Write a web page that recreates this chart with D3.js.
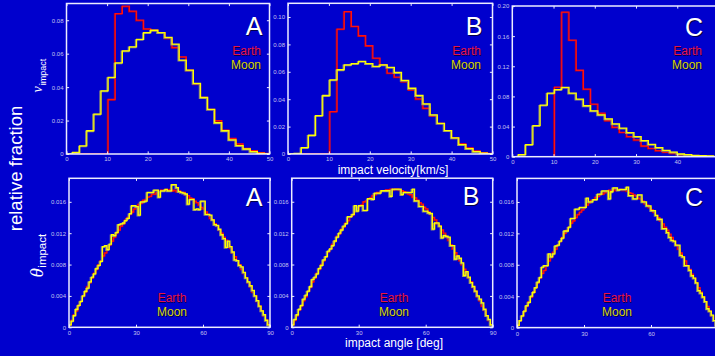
<!DOCTYPE html>
<html><head><meta charset="utf-8">
<script src="https://cdn.jsdelivr.net/npm/d3@7"></script>
<style>html,body{margin:0;padding:0;background:#0000cd;} svg{display:block}</style>
</head><body>
<svg id="c" width="715" height="356"></svg>
<script>
// ---------------- DATA ----------------
// impact velocity histogram bin edges [km/s]
const velEdges = [1.5,3.25,5,6.75,8.5,10.25,12,13.75,15.5,17.25,19,20.75,22.5,24.25,26,27.75,29.5,31.25,33,34.75,36.5,38.25,40,41.75,43.5,45.25,47,48.75,50.5];
const earthVelA = [0,0,0,0,0,0.0326,0.0840,0.0884,0.0854,0.0800,0.0748,0.0740,0.0726,0.0692,0.0637,0.0581,0.0501,0.0418,0.0338,0.0267,0.0199,0.0143,0.0094,0.0060,0.0034,0.0020,0.0008,0.0004];
const moonVelA  = [0.0010,0.0048,0.0139,0.0239,0.0378,0.0458,0.0545,0.0617,0.0641,0.0685,0.0726,0.0740,0.0726,0.0697,0.0657,0.0561,0.0501,0.0422,0.0338,0.0267,0.0187,0.0139,0.0084,0.0050,0.0030,0.0014,0.0004,0.0002];
const earthVelB = [0,0,0,0,0,0.0310,0.0912,0.1039,0.0932,0.0863,0.0790,0.0700,0.0651,0.0590,0.0561,0.0529,0.0468,0.0402,0.0334,0.0278,0.0224,0.0171,0.0117,0.0073,0.0044,0.0022,0.0010,0.0005];
const moonVelB  = [0.0005,0.0046,0.0137,0.0280,0.0427,0.0541,0.0615,0.0651,0.0659,0.0676,0.0659,0.0639,0.0651,0.0632,0.0595,0.0537,0.0480,0.0427,0.0366,0.0285,0.0224,0.0171,0.0117,0.0068,0.0039,0.0017,0.0007,0.0002];
const earthVelC = [0,0,0,0,0,0.0924,0.1920,0.1547,0.1147,0.0898,0.0698,0.0578,0.0480,0.0391,0.0324,0.0267,0.0222,0.0142,0.0111,0.0080,0.0062,0.0044,0.0027,0.0018,0.0009,0.0005,0.0003,0.0001];
const moonVelC  = [0.0027,0.0160,0.0413,0.0684,0.0844,0.0889,0.0920,0.0844,0.0764,0.0676,0.0609,0.0556,0.0502,0.0436,0.0378,0.0320,0.0267,0.0213,0.0164,0.0120,0.0084,0.0062,0.0036,0.0027,0.0018,0.0013,0.0009,0.0005];

// impact angle histograms, 1-degree bins from 0 to 90 deg
const earthAngA = [0.0003,0.0009,0.0016,0.0021,0.0028,0.0033,0.0040,0.0045,0.0052,0.0057,
0.0063,0.0069,0.0074,0.0080,0.0085,0.0091,0.0095,0.0101,0.0105,0.0110,
0.0115,0.0120,0.0124,0.0129,0.0132,0.0137,0.0140,0.0144,0.0147,0.0151,
0.0153,0.0157,0.0158,0.0162,0.0163,0.0166,0.0167,0.0170,0.0170,0.0172,
0.0173,0.0175,0.0174,0.0176,0.0175,0.0176,0.0174,0.0175,0.0173,0.0174,
0.0172,0.0172,0.0169,0.0168,0.0165,0.0164,0.0161,0.0159,0.0156,0.0153,
0.0151,0.0147,0.0144,0.0139,0.0137,0.0132,0.0129,0.0124,0.0120,0.0115,
0.0111,0.0105,0.0101,0.0095,0.0090,0.0085,0.0080,0.0074,0.0069,0.0063,
0.0057,0.0052,0.0045,0.0040,0.0033,0.0027,0.0021,0.0015,0.0009,0.0003];
const moonAngA = [0.0003,0.0008,0.0015,0.0023,0.0028,0.0033,0.0040,0.0046,0.0050,0.0058,
0.0064,0.0068,0.0075,0.0079,0.0084,0.0103,0.0104,0.0099,0.0106,0.0118,
0.0117,0.0121,0.0131,0.0132,0.0133,0.0136,0.0139,0.0145,0.0155,0.0155,
0.0154,0.0143,0.0160,0.0160,0.0161,0.0172,0.0172,0.0172,0.0175,0.0175,
0.0166,0.0174,0.0174,0.0176,0.0174,0.0174,0.0182,0.0182,0.0178,0.0173,
0.0172,0.0171,0.0170,0.0157,0.0163,0.0163,0.0150,0.0151,0.0150,0.0161,
0.0161,0.0144,0.0144,0.0143,0.0137,0.0131,0.0130,0.0125,0.0118,0.0113,
0.0102,0.0110,0.0103,0.0096,0.0086,0.0085,0.0079,0.0077,0.0070,0.0063,
0.0058,0.0053,0.0047,0.0040,0.0034,0.0027,0.0021,0.0016,0.0009,0.0003];
const earthAngB = [0.0003,0.0009,0.0015,0.0022,0.0027,0.0034,0.0039,0.0046,0.0051,0.0058,
0.0063,0.0069,0.0074,0.0080,0.0085,0.0090,0.0096,0.0100,0.0106,0.0110,
0.0116,0.0119,0.0125,0.0128,0.0133,0.0136,0.0141,0.0143,0.0148,0.0150,
0.0154,0.0156,0.0160,0.0161,0.0164,0.0165,0.0168,0.0169,0.0172,0.0172,
0.0174,0.0174,0.0175,0.0175,0.0176,0.0175,0.0176,0.0176,0.0175,0.0174,
0.0173,0.0172,0.0170,0.0169,0.0166,0.0165,0.0162,0.0159,0.0157,0.0153,
0.0151,0.0147,0.0144,0.0140,0.0137,0.0132,0.0129,0.0124,0.0120,0.0115,
0.0111,0.0105,0.0100,0.0095,0.0091,0.0085,0.0080,0.0074,0.0069,0.0063,
0.0058,0.0051,0.0046,0.0039,0.0034,0.0027,0.0022,0.0015,0.0009,0.0003];
const moonAngB = [0.0003,0.0010,0.0016,0.0023,0.0028,0.0036,0.0041,0.0046,0.0052,0.0061,
0.0064,0.0068,0.0075,0.0079,0.0086,0.0090,0.0097,0.0100,0.0104,0.0110,
0.0115,0.0120,0.0124,0.0129,0.0132,0.0141,0.0141,0.0144,0.0155,0.0148,
0.0155,0.0155,0.0149,0.0149,0.0164,0.0164,0.0163,0.0171,0.0171,0.0171,
0.0174,0.0174,0.0174,0.0174,0.0167,0.0176,0.0176,0.0176,0.0176,0.0169,
0.0172,0.0172,0.0172,0.0172,0.0176,0.0161,0.0161,0.0154,0.0154,0.0148,
0.0148,0.0146,0.0145,0.0125,0.0133,0.0133,0.0129,0.0114,0.0117,0.0116,
0.0115,0.0104,0.0104,0.0087,0.0091,0.0088,0.0082,0.0066,0.0071,0.0064,
0.0057,0.0052,0.0046,0.0040,0.0036,0.0031,0.0023,0.0015,0.0010,0.0003];
const earthAngC = [0.0003,0.0009,0.0015,0.0021,0.0027,0.0033,0.0039,0.0045,0.0051,0.0057,
0.0063,0.0069,0.0073,0.0079,0.0085,0.0090,0.0096,0.0100,0.0105,0.0110,
0.0115,0.0120,0.0124,0.0128,0.0133,0.0136,0.0140,0.0144,0.0147,0.0150,
0.0153,0.0156,0.0159,0.0162,0.0163,0.0166,0.0167,0.0170,0.0170,0.0172,
0.0173,0.0175,0.0174,0.0176,0.0175,0.0176,0.0176,0.0175,0.0175,0.0174,
0.0172,0.0171,0.0169,0.0168,0.0165,0.0164,0.0161,0.0158,0.0156,0.0153,
0.0150,0.0147,0.0143,0.0140,0.0136,0.0132,0.0128,0.0124,0.0119,0.0115,
0.0110,0.0105,0.0100,0.0095,0.0090,0.0085,0.0079,0.0074,0.0068,0.0063,
0.0057,0.0051,0.0045,0.0039,0.0033,0.0027,0.0021,0.0015,0.0009,0.0003];
const moonAngC = [0.0003,0.0009,0.0015,0.0021,0.0028,0.0032,0.0040,0.0045,0.0051,0.0058,
0.0064,0.0077,0.0079,0.0079,0.0094,0.0090,0.0094,0.0104,0.0105,0.0110,
0.0114,0.0123,0.0123,0.0128,0.0139,0.0139,0.0151,0.0151,0.0153,0.0153,
0.0153,0.0165,0.0160,0.0160,0.0163,0.0163,0.0170,0.0170,0.0174,0.0174,
0.0174,0.0164,0.0173,0.0178,0.0178,0.0175,0.0176,0.0176,0.0176,0.0179,
0.0168,0.0168,0.0164,0.0164,0.0169,0.0169,0.0160,0.0160,0.0155,0.0155,
0.0149,0.0149,0.0143,0.0138,0.0138,0.0126,0.0126,0.0121,0.0115,0.0111,
0.0110,0.0105,0.0105,0.0092,0.0090,0.0079,0.0079,0.0073,0.0066,0.0063,
0.0057,0.0047,0.0044,0.0039,0.0033,0.0024,0.0021,0.0016,0.0009,0.0003];

// tick values / labels
const velXTicks = [0,10,20,30,40,50];
const velYTicksA = [0,0.02,0.04,0.06,0.08];
const velYTicksB = [0,0.02,0.04,0.06,0.08,0.10];
const velYTicksC = [0,0.04,0.08,0.12,0.16,0.20];
const angXTicks = [0,30,60,90];
const angYTicks = [0,0.004,0.008,0.012,0.016];
const panelLetters = ["A","B","C"];
const seriesNames = ["Earth","Moon"];

// ---------------- DRAWING ----------------
const svg = d3.select('#c');
const FONT = "'Liberation Sans', Arial, Helvetica, sans-serif";
const frameColor = "#ececff";
const tickTextColor = "#c4c4ee";
const earthColor = "#ff1010", moonColor = "#ffff00";
const earthText = "#e8124c", moonText = "#d6d600";

function shadowText(g, x, y, str, fill, size, anchor) {
  g.append('text').attr('x', x + 1.2).attr('y', y + 1.2).attr('text-anchor', anchor)
    .attr('font-family', FONT).attr('font-size', size).attr('fill', 'rgba(0,0,30,0.75)').text(str);
  g.append('text').attr('x', x).attr('y', y).attr('text-anchor', anchor)
    .attr('font-family', FONT).attr('font-size', size).attr('fill', fill).text(str);
}

let clipId = 0;
function drawPanel(p) {
  const [x0, y0, x1, y1] = p.box;
  const x = d3.scaleLinear().domain(p.xDomain).range([x0, x1]);
  const y = d3.scaleLinear().domain([0, p.ymax]).range([y1, y0]);
  const g = svg.append('g');
  const cid = 'clip' + (clipId++);
  g.append('clipPath').attr('id', cid).append('rect')
    .attr('x', x0).attr('y', y0 - 2).attr('width', x1 - x0).attr('height', y1 - y0 + 2);

  const line = d3.line().x(d => x(d[0])).y(d => y(d[1])).curve(d3.curveStepAfter);
  const lg = g.append('g').attr('clip-path', `url(#${cid})`);
  const series = [p.earth, p.moon];
  series.forEach((vals, si) => {
    const pts = p.toPoints(vals);
    if (si === 1) {
      lg.append('path').attr('d', line(pts)).attr('fill', 'none')
        .attr('stroke', '#8c8c78').attr('stroke-width', 1.6)
        .attr('transform', 'translate(-0.9,0.6)');
    } else {
      lg.append('path').attr('d', line(pts)).attr('fill', 'none')
        .attr('stroke', '#a00030').attr('stroke-width', 1.4)
        .attr('transform', 'translate(-0.7,0.5)');
    }
    lg.append('path').attr('d', line(pts)).attr('fill', 'none')
      .attr('stroke', si === 0 ? earthColor : moonColor).attr('stroke-width', 1.3);
  });

  // axes (ticks inward on all four sides)
  const tl = 2.6;
  const xLab = d => (x(d) > 711 ? '' : d3.format('d')(d));
  const ax = g.append('g').attr('transform', `translate(0,${y1})`)
    .call(d3.axisBottom(x).tickValues(p.xTicks).tickSizeInner(-tl).tickSizeOuter(0).tickPadding(p.xPad).tickFormat(xLab));
  const ay = g.append('g').attr('transform', `translate(${x0},0)`)
    .call(d3.axisLeft(y).tickValues(p.yTicks).tickSizeInner(-tl).tickSizeOuter(0).tickPadding(3).tickFormat(p.yFmt));
  const at = g.append('g').attr('transform', `translate(0,${y0})`)
    .call(d3.axisTop(x).tickValues(p.xTicks).tickSizeInner(-tl).tickSizeOuter(0).tickFormat(''));
  const ar = g.append('g').attr('transform', `translate(${x1},0)`)
    .call(d3.axisRight(y).tickValues(p.yTicks).tickSizeInner(-tl).tickSizeOuter(0).tickFormat(''));
  [ax, ay, at, ar].forEach(a => {
    a.select('.domain').remove();
    a.selectAll('line').attr('stroke', frameColor).attr('stroke-width', 1);
    a.selectAll('text').attr('fill', tickTextColor).attr('font-family', FONT).attr('font-size', 6);
  });
  g.append('rect').attr('x', x0).attr('y', y0).attr('width', x1 - x0).attr('height', y1 - y0)
    .attr('fill', 'none').attr('stroke', frameColor).attr('stroke-width', 1.5);

  // letter and legend
  shadowText(g, p.letter[0], p.letter[1], p.name, '#ffffff', 25, 'middle');
  shadowText(g, p.legend[0], p.legend[1], seriesNames[0], earthText, 12, p.legend[2]);
  shadowText(g, p.legend[0], p.legend[1] + 13.8, seriesNames[1], moonText, 12, p.legend[2]);
}

const velPoints = vals => [[0, 0]].concat(vals.map((v, i) => [velEdges[i], v])).concat([[velEdges[velEdges.length - 1], 0]]);
const angPoints = vals => [[0, 0]].concat(vals.map((v, i) => [i, v])).concat([[vals.length, vals[vals.length - 1]], [vals.length, 0]]);
const velFmt = d => d === 0 ? '0' : d.toFixed(2);
const angFmt = d => d === 0 ? '0' : d.toFixed(3);

const velBoxes = [[66.5, 3.5, 269.5, 154], [288, 3.3, 492.5, 154], [512.3, 6, 718.5, 156.7]];
const velY = [velYTicksA, velYTicksB, velYTicksC];
const velMax = [0.09, 0.11, 0.20];
const velE = [earthVelA, earthVelB, earthVelC], velM = [moonVelA, moonVelB, moonVelC];
const velLetter = [[254, 35], [474, 35], [694, 36]];
const velLegend = [[261, 55, 'end'], [481, 55, 'end'], [702, 55, 'end']];
velBoxes.forEach((b, i) => drawPanel({
  box: b, xDomain: [0, 50], ymax: velMax[i], xTicks: velXTicks, yTicks: velY[i], yFmt: velFmt, xPad: 3,
  earth: velE[i], moon: velM[i], toPoints: velPoints, name: panelLetters[i],
  letter: velLetter[i], legend: velLegend[i]
}));

const angBoxes = [[69, 178.3, 270, 327.3], [291.7, 178.2, 492.7, 327.3], [517, 178.4, 718, 327.6]];
const angE = [earthAngA, earthAngB, earthAngC], angM = [moonAngA, moonAngB, moonAngC];
const angLetter = [[254, 205.7], [471, 205.2], [694, 205.7]];
const angLegend = [[172, 301.7, 'middle'], [394, 301.7, 'middle'], [617, 301.7, 'middle']];
angBoxes.forEach((b, i) => drawPanel({
  box: b, xDomain: [0, 90], ymax: 0.019, xTicks: angXTicks, yTicks: angYTicks, yFmt: angFmt, xPad: 3.8,
  earth: angE[i], moon: angM[i], toPoints: angPoints, name: panelLetters[i],
  letter: angLetter[i], legend: angLegend[i]
}));

// global labels
svg.append('text').attr('transform', 'translate(21.5,168.5) rotate(-90)').attr('text-anchor', 'middle')
  .attr('font-family', FONT).attr('font-size', 18.5).attr('fill', '#ffffff').text('relative fraction');

const vl = svg.append('text').attr('transform', 'translate(42,92.5) rotate(-90)').attr('fill', '#ffffff');
vl.append('tspan').attr('font-family', "'Liberation Serif', 'Times New Roman', serif").attr('font-style', 'italic').attr('font-size', 14).text('v');
vl.append('tspan').attr('font-family', FONT).attr('font-size', 9).attr('dy', 3.5).attr('dx', 1).text('impact');

const tl2 = svg.append('text').attr('transform', 'translate(42.5,277.5) rotate(-90)').attr('fill', '#ffffff');
tl2.append('tspan').attr('font-family', "'Liberation Serif', 'Times New Roman', serif").attr('font-style', 'italic').attr('font-size', 19).text('θ');
tl2.append('tspan').attr('font-family', FONT).attr('font-size', 11.5).attr('dy', 3).attr('dx', 0.5).text('impact');

svg.append('text').attr('x', 393).attr('y', 173.8).attr('text-anchor', 'middle')
  .attr('font-family', FONT).attr('font-size', 12).attr('fill', '#ffffff').text('impact velocity[km/s]');
svg.append('text').attr('x', 394).attr('y', 347).attr('text-anchor', 'middle')
  .attr('font-family', FONT).attr('font-size', 12).attr('fill', '#ffffff').text('impact angle [deg]');
</script>
</body></html>
